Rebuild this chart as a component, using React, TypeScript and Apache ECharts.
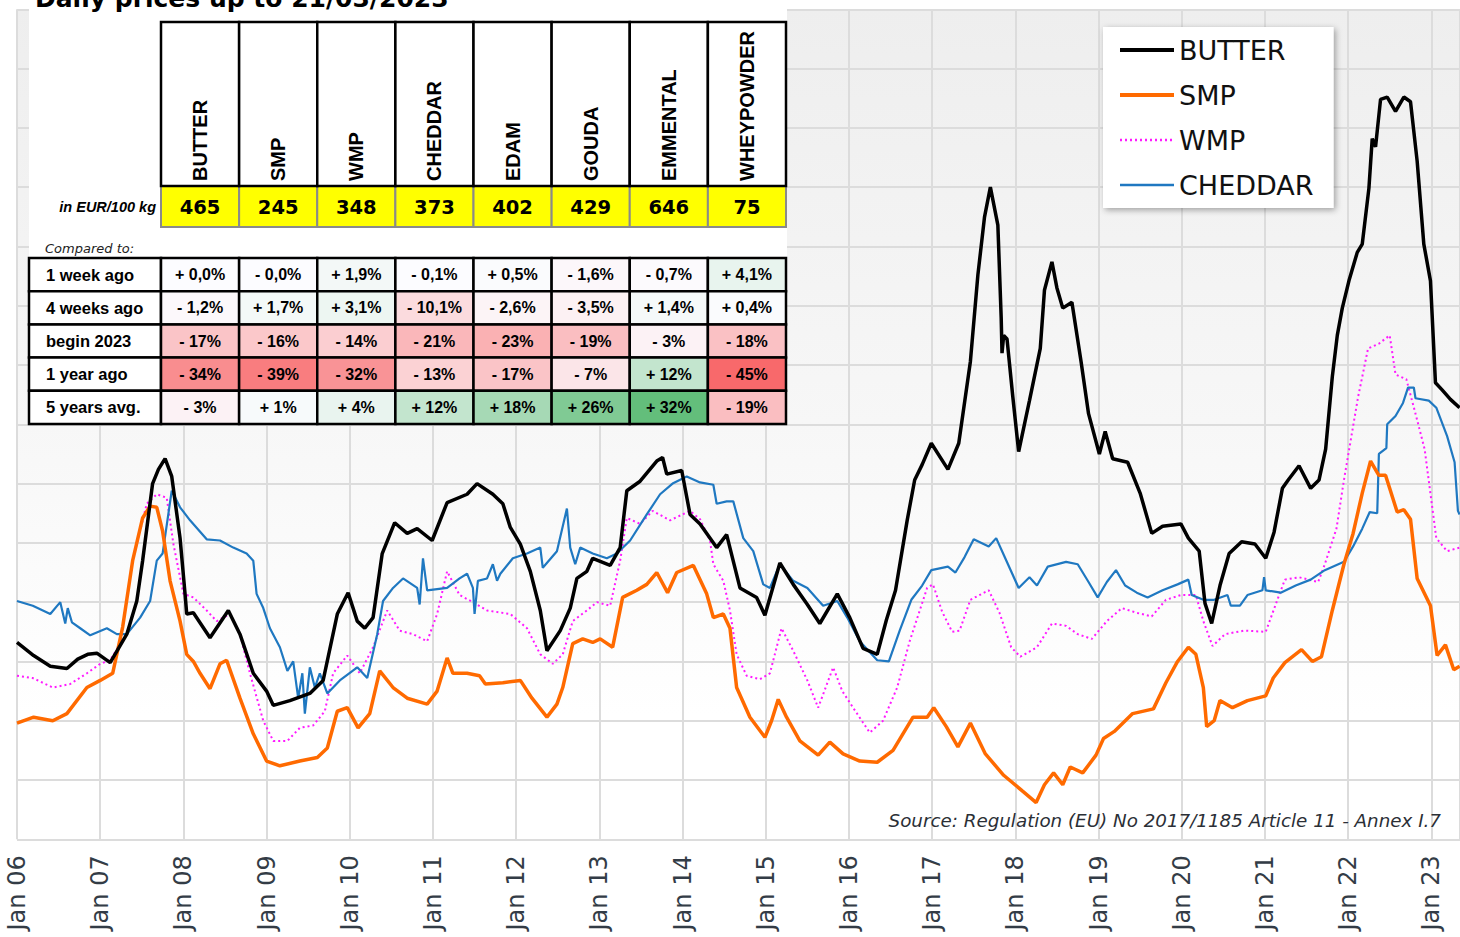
import React, { useEffect, useRef } from 'react';
import * as echarts from 'echarts';

// ---------- DATA ----------
const TITLE = 'Daily prices up to 21/03/2023';
const SOURCE = 'Source: Regulation (EU) No 2017/1185 Article 11 - Annex I.7';
const UNIT_LABEL = 'in EUR/100 kg';
const COMPARED_LABEL = 'Compared to:';

const PRODUCTS = ['BUTTER', 'SMP', 'WMP', 'CHEDDAR', 'EDAM', 'GOUDA', 'EMMENTAL', 'WHEYPOWDER'];
const PRICES = [465, 245, 348, 373, 402, 429, 646, 75];

const COMPARE_LABELS = ['1 week ago', '4 weeks ago', 'begin 2023', '1 year ago', '5 years avg.'];
const CHG_1W = [0.0, -0.0, 1.9, -0.1, 0.5, -1.6, -0.7, 4.1];
const CHG_4W = [-1.2, 1.7, 3.1, -10.1, -2.6, -3.5, 1.4, 0.4];
const CHG_BEGIN = [-17, -16, -14, -21, -23, -19, -3, -18];
const CHG_1Y = [-34, -39, -32, -13, -17, -7, 12, -45];
const CHG_5Y = [-3, 1, 4, 12, 18, 26, 32, -19];
const CHG_DECIMALS = [1, 1, 0, 0, 0];

// time in decimal years, price in EUR/100 kg
const BUTTER: [number, number][] = [
  [2006.00, 266], [2006.20, 255], [2006.40, 246], [2006.60, 244], [2006.73, 252], [2006.85, 256], [2006.96, 257],
  [2007.12, 249], [2007.32, 273], [2007.44, 301], [2007.51, 335], [2007.63, 400], [2007.70, 412], [2007.78, 421],
  [2007.86, 406], [2007.96, 354], [2008.02, 307], [2008.04, 290], [2008.12, 291], [2008.32, 270], [2008.54, 293],
  [2008.68, 273], [2008.84, 240], [2009.00, 225], [2009.08, 213], [2009.28, 217], [2009.52, 223], [2009.68, 234],
  [2009.85, 290], [2009.98, 308], [2010.09, 284], [2010.18, 278], [2010.28, 287], [2010.39, 341], [2010.54, 367],
  [2010.69, 358], [2010.81, 362], [2010.99, 352], [2011.17, 384], [2011.41, 391], [2011.53, 400], [2011.72, 391],
  [2011.84, 383], [2011.93, 363], [2012.05, 349], [2012.17, 326], [2012.29, 293], [2012.37, 259], [2012.53, 276],
  [2012.65, 295], [2012.73, 320], [2012.85, 326], [2012.92, 337], [2013.13, 331], [2013.25, 346], [2013.33, 394],
  [2013.49, 402], [2013.69, 419], [2013.76, 422], [2013.81, 408], [2013.99, 411], [2014.09, 374], [2014.21, 366],
  [2014.41, 346], [2014.53, 357], [2014.69, 312], [2014.89, 304], [2014.99, 289], [2015.17, 333], [2015.33, 315],
  [2015.50, 298], [2015.65, 282], [2015.86, 307], [2016.01, 287], [2016.17, 261], [2016.34, 256], [2016.45, 285],
  [2016.56, 310], [2016.70, 369], [2016.79, 403], [2016.88, 416], [2016.99, 434], [2017.19, 412], [2017.32, 434],
  [2017.46, 503], [2017.55, 576], [2017.63, 625], [2017.70, 650], [2017.79, 618], [2017.83, 540], [2017.84, 510],
  [2017.86, 525], [2017.90, 522], [2017.97, 473], [2018.04, 427], [2018.17, 470], [2018.30, 514], [2018.35, 563],
  [2018.44, 587], [2018.50, 565], [2018.57, 548], [2018.68, 553], [2018.79, 503], [2018.88, 459], [2019.01, 425],
  [2019.08, 444], [2019.17, 421], [2019.35, 418], [2019.50, 392], [2019.64, 358], [2019.77, 364], [2019.99, 366],
  [2020.08, 354], [2020.21, 343], [2020.28, 299], [2020.36, 282], [2020.46, 314], [2020.57, 341], [2020.72, 351],
  [2020.88, 349], [2021.01, 337], [2021.11, 359], [2021.21, 396], [2021.28, 403], [2021.41, 415], [2021.55, 396],
  [2021.65, 403], [2021.73, 429], [2021.81, 490], [2021.87, 525], [2021.93, 548], [2022.01, 571], [2022.11, 595],
  [2022.17, 602], [2022.25, 649], [2022.29, 691], [2022.33, 684], [2022.39, 724], [2022.47, 726], [2022.57, 714],
  [2022.67, 726], [2022.75, 722], [2022.83, 672], [2022.91, 602], [2022.99, 571], [2023.05, 485], [2023.13, 479],
  [2023.23, 471], [2023.34, 464],
];

const SMP: [number, number][] = [
  [2006.00, 198], [2006.20, 203], [2006.43, 200], [2006.60, 206], [2006.84, 228], [2007.00, 234], [2007.15, 240],
  [2007.27, 279], [2007.39, 335], [2007.51, 371], [2007.60, 381], [2007.68, 380], [2007.75, 360], [2007.84, 318],
  [2007.96, 284], [2008.04, 256], [2008.12, 250], [2008.20, 240], [2008.32, 227], [2008.44, 248], [2008.52, 251],
  [2008.68, 219], [2008.84, 189], [2009.00, 166], [2009.16, 162], [2009.40, 166], [2009.61, 169], [2009.73, 177],
  [2009.85, 208], [2009.97, 211], [2010.10, 194], [2010.24, 206], [2010.36, 242], [2010.52, 228], [2010.69, 219],
  [2010.93, 214], [2011.05, 225], [2011.17, 253], [2011.24, 240], [2011.41, 240], [2011.56, 238], [2011.63, 231],
  [2011.84, 232], [2012.05, 234], [2012.19, 219], [2012.37, 203], [2012.49, 214], [2012.56, 228], [2012.68, 265],
  [2012.80, 269], [2012.92, 266], [2013.01, 269], [2013.16, 262], [2013.28, 304], [2013.45, 310], [2013.57, 315],
  [2013.69, 325], [2013.82, 308], [2013.93, 325], [2014.13, 331], [2014.29, 307], [2014.37, 287], [2014.49, 290],
  [2014.57, 278], [2014.65, 228], [2014.81, 203], [2014.99, 186], [2015.07, 200], [2015.15, 218], [2015.25, 203],
  [2015.41, 183], [2015.63, 171], [2015.77, 182], [2015.93, 172], [2016.13, 166], [2016.34, 165], [2016.53, 175],
  [2016.77, 203], [2016.94, 203], [2017.02, 211], [2017.17, 195], [2017.31, 178], [2017.46, 198], [2017.64, 172],
  [2017.86, 154], [2018.08, 141], [2018.25, 131], [2018.35, 146], [2018.46, 156], [2018.57, 146], [2018.66, 161],
  [2018.81, 156], [2018.97, 171], [2019.06, 185], [2019.19, 191], [2019.41, 206], [2019.66, 210], [2019.81, 232],
  [2019.95, 250], [2020.08, 262], [2020.17, 256], [2020.26, 228], [2020.30, 195], [2020.39, 200], [2020.46, 217],
  [2020.61, 211], [2020.79, 217], [2021.01, 221], [2021.10, 236], [2021.24, 249], [2021.44, 260], [2021.57, 250],
  [2021.68, 254], [2021.81, 293], [2021.95, 332], [2022.06, 358], [2022.17, 392], [2022.27, 419], [2022.37, 407],
  [2022.45, 407], [2022.59, 376], [2022.67, 378], [2022.75, 370], [2022.83, 320], [2022.99, 297], [2023.07, 255],
  [2023.17, 264], [2023.27, 243], [2023.34, 246],
];

const WMP: [number, number][] = [
  [2006.00, 238], [2006.19, 236], [2006.43, 228], [2006.64, 231], [2006.84, 240], [2007.00, 248], [2007.12, 251],
  [2007.24, 265], [2007.39, 335], [2007.56, 383], [2007.68, 391], [2007.80, 388], [2007.88, 349], [2008.00, 307],
  [2008.12, 304], [2008.28, 293], [2008.40, 284], [2008.56, 290], [2008.68, 273], [2008.80, 240], [2008.96, 200],
  [2009.08, 183], [2009.25, 183], [2009.40, 194], [2009.56, 196], [2009.70, 208], [2009.80, 240], [2009.97, 255],
  [2010.12, 240], [2010.28, 262], [2010.45, 293], [2010.60, 276], [2010.76, 273], [2010.93, 267], [2011.05, 290],
  [2011.17, 326], [2011.32, 306], [2011.48, 300], [2011.65, 293], [2011.93, 290], [2012.13, 278], [2012.29, 256],
  [2012.44, 248], [2012.56, 256], [2012.68, 284], [2012.85, 293], [2012.97, 300], [2013.13, 297], [2013.25, 335],
  [2013.33, 371], [2013.49, 366], [2013.64, 377], [2013.85, 369], [2014.09, 377], [2014.21, 370], [2014.33, 352],
  [2014.37, 332], [2014.49, 318], [2014.57, 293], [2014.65, 256], [2014.77, 238], [2014.93, 235], [2015.05, 240],
  [2015.19, 278], [2015.33, 259], [2015.50, 234], [2015.63, 211], [2015.81, 245], [2015.92, 225], [2016.05, 211],
  [2016.25, 190], [2016.41, 200], [2016.58, 228], [2016.73, 267], [2016.94, 312], [2017.01, 315], [2017.12, 292],
  [2017.24, 275], [2017.33, 276], [2017.46, 302], [2017.68, 310], [2017.81, 291], [2017.95, 262], [2018.06, 254],
  [2018.26, 262], [2018.44, 282], [2018.61, 280], [2018.75, 273], [2018.92, 269], [2019.10, 284], [2019.28, 295],
  [2019.46, 291], [2019.64, 288], [2019.81, 302], [2019.99, 306], [2020.17, 306], [2020.26, 284], [2020.37, 263],
  [2020.52, 273], [2020.75, 276], [2021.01, 275], [2021.15, 302], [2021.24, 319], [2021.41, 321], [2021.64, 317],
  [2021.72, 332], [2021.86, 362], [2021.95, 403], [2022.12, 473], [2022.24, 514], [2022.37, 518], [2022.50, 525],
  [2022.57, 492], [2022.70, 488], [2022.81, 459], [2022.92, 429], [2023.06, 354], [2023.19, 343], [2023.34, 346],
];

const CHEDDAR: [number, number][] = [
  [2006.00, 301], [2006.19, 297], [2006.40, 290], [2006.52, 300], [2006.58, 282], [2006.61, 295], [2006.66, 283],
  [2006.76, 278], [2006.88, 272], [2007.08, 278], [2007.20, 273], [2007.32, 273], [2007.48, 287], [2007.60, 301],
  [2007.68, 335], [2007.75, 341], [2007.86, 394], [2007.96, 380], [2008.08, 369], [2008.28, 353], [2008.44, 352],
  [2008.60, 346], [2008.76, 341], [2008.84, 335], [2008.88, 307], [2008.96, 295], [2009.04, 278], [2009.16, 262],
  [2009.25, 242], [2009.32, 250], [2009.38, 219], [2009.43, 240], [2009.46, 206], [2009.52, 245], [2009.58, 228],
  [2009.64, 240], [2009.73, 223], [2009.88, 234], [2010.09, 245], [2010.21, 236], [2010.33, 273], [2010.40, 301],
  [2010.52, 312], [2010.64, 320], [2010.81, 312], [2010.84, 298], [2010.88, 337], [2010.93, 310], [2011.17, 312],
  [2011.32, 320], [2011.41, 324], [2011.48, 312], [2011.50, 290], [2011.54, 318], [2011.65, 320], [2011.72, 332],
  [2011.77, 318], [2011.81, 324], [2011.96, 337], [2012.13, 341], [2012.29, 346], [2012.32, 329], [2012.49, 343],
  [2012.61, 379], [2012.65, 346], [2012.71, 332], [2012.77, 346], [2012.92, 341], [2013.09, 337], [2013.21, 341],
  [2013.37, 352], [2013.57, 374], [2013.73, 391], [2013.88, 400], [2014.05, 406], [2014.21, 401], [2014.37, 399],
  [2014.41, 383], [2014.53, 385], [2014.61, 385], [2014.73, 354], [2014.85, 343], [2014.97, 315], [2015.05, 312],
  [2015.17, 332], [2015.33, 318], [2015.50, 312], [2015.69, 297], [2015.86, 301], [2015.98, 287], [2016.13, 267],
  [2016.34, 251], [2016.48, 250], [2016.61, 276], [2016.75, 302], [2016.88, 314], [2016.99, 327], [2017.19, 330],
  [2017.28, 325], [2017.39, 338], [2017.50, 353], [2017.68, 347], [2017.77, 354], [2017.86, 340], [2018.04, 312],
  [2018.17, 321], [2018.26, 314], [2018.39, 330], [2018.61, 334], [2018.75, 332], [2018.88, 317], [2018.99, 304],
  [2019.10, 317], [2019.21, 327], [2019.32, 314], [2019.46, 308], [2019.59, 304], [2019.77, 310], [2019.95, 315],
  [2020.08, 319], [2020.12, 306], [2020.26, 302], [2020.39, 302], [2020.55, 306], [2020.59, 297], [2020.70, 297],
  [2020.79, 306], [2020.97, 310], [2020.99, 321], [2021.01, 310], [2021.19, 308], [2021.37, 314], [2021.55, 319],
  [2021.72, 327], [2021.95, 334], [2022.06, 347], [2022.17, 362], [2022.26, 376], [2022.35, 375], [2022.37, 425],
  [2022.46, 430], [2022.47, 450], [2022.57, 457], [2022.66, 468], [2022.72, 481], [2022.79, 481], [2022.81, 472],
  [2022.97, 470], [2023.06, 464], [2023.19, 440], [2023.28, 418], [2023.32, 377], [2023.34, 374],
];

const SERIES_NAMES = ['BUTTER', 'SMP', 'WMP', 'CHEDDAR'];
const X_MIN = 2006;
const X_MAX = 2023.345;
const Y_MIN = 100;
const Y_MAX = 800;
const Y_STEP = 50;

// ---------- helpers ----------
const CHG_ROWS = [CHG_1W, CHG_4W, CHG_BEGIN, CHG_1Y, CHG_5Y];

function fmtChange(v: number, dec: number): string {
  const neg = v < 0 || Object.is(v, -0);
  return `${neg ? '-' : '+'} ${Math.abs(v).toFixed(dec).replace('.', ',')}%`;
}

function scaleColor(v: number, min: number, max: number): string {
  const white = [252, 252, 255];
  const red = [248, 105, 107];
  const green = [99, 190, 123];
  let t: number;
  let c: number[];
  if (v < 0) {
    t = v / min;
    c = red;
  } else {
    t = max ? v / max : 0;
    c = green;
  }
  const m = white.map((w, i) => Math.round(w + (c[i] - w) * t));
  return `rgb(${m[0]},${m[1]},${m[2]})`;
}

function buildTable(): any[] {
  const els: any[] = [];
  const X0 = 161;
  const CW = 78.125;
  const HT = 22;
  const HB = 186;
  const PH = 41;
  const RT = 258;
  const RH = 33.2;
  const LX = 29;
  const all = CHG_ROWS.flat();
  const min = Math.min(...all);
  const max = Math.max(...all);
  const bold = 'Liberation Sans';

  // white backing
  els.push({ type: 'rect', z: 10, shape: { x: 29, y: 0, width: 758, height: 424 }, style: { fill: '#ffffff' } });

  // title
  els.push({
    type: 'text', z: 12, x: 35, y: -1.6,
    style: { text: TITLE, fill: '#000', fontSize: 25, fontWeight: 'bold', fontFamily: 'DejaVu Sans', align: 'left', verticalAlign: 'middle' },
  });

  // price row (yellow)
  PRODUCTS.forEach((_, i) => {
    els.push({
      type: 'rect', z: 11, shape: { x: X0 + i * CW, y: HB, width: CW, height: PH },
      style: { fill: '#ffff00', stroke: '#8a8a8a', lineWidth: 2 },
    });
  });
  // header cells
  PRODUCTS.forEach((p, i) => {
    els.push({
      type: 'rect', z: 12, shape: { x: X0 + i * CW, y: HT, width: CW, height: HB - HT },
      style: { fill: '#ffffff', stroke: '#000', lineWidth: 2.5 },
    });
    els.push({
      type: 'text', z: 13, x: X0 + i * CW + CW / 2, y: 181, rotation: Math.PI / 2,
      style: { text: p, fill: '#000', fontSize: 20, fontWeight: 'bold', fontFamily: bold, align: 'left', verticalAlign: 'middle' },
    });
    els.push({
      type: 'text', z: 13, x: X0 + i * CW + CW / 2, y: HB + PH / 2 + 0.5,
      style: { text: String(PRICES[i]), fill: '#000', fontSize: 19.5, fontWeight: 'bold', fontFamily: 'DejaVu Sans', align: 'center', verticalAlign: 'middle' },
    });
  });
  els.push({
    type: 'text', z: 13, x: 156, y: HB + PH / 2,
    style: { text: UNIT_LABEL, fill: '#000', fontSize: 14.5, fontWeight: 'bold', fontStyle: 'italic', fontFamily: bold, align: 'right', verticalAlign: 'middle' },
  });
  els.push({
    type: 'text', z: 13, x: 45, y: 248,
    style: { text: COMPARED_LABEL, fill: '#222', fontSize: 13, fontStyle: 'italic', fontFamily: 'DejaVu Sans', align: 'left', verticalAlign: 'middle' },
  });

  // comparison rows
  CHG_ROWS.forEach((row, r) => {
    const y = RT + r * RH;
    els.push({
      type: 'rect', z: 12, shape: { x: LX, y, width: X0 - LX, height: RH },
      style: { fill: '#ffffff', stroke: '#000', lineWidth: 2.5 },
    });
    els.push({
      type: 'text', z: 13, x: 46, y: y + RH / 2,
      style: { text: COMPARE_LABELS[r], fill: '#000', fontSize: 16.5, fontWeight: 'bold', fontFamily: bold, align: 'left', verticalAlign: 'middle' },
    });
    row.forEach((v, i) => {
      els.push({
        type: 'rect', z: 12, shape: { x: X0 + i * CW, y, width: CW, height: RH },
        style: { fill: scaleColor(v, min, max), stroke: '#000', lineWidth: 2.5 },
      });
      els.push({
        type: 'text', z: 13, x: X0 + i * CW + CW / 2, y: y + RH / 2,
        style: { text: fmtChange(v, CHG_DECIMALS[r]), fill: '#000', fontSize: 16, fontWeight: 'bold', fontFamily: bold, align: 'center', verticalAlign: 'middle' },
      });
    });
  });

  // source
  els.push({
    type: 'text', z: 5, x: 1441, y: 820,
    style: { text: SOURCE, fill: '#2b2f36', fontSize: 18.3, fontStyle: 'italic', fontFamily: 'DejaVu Sans', align: 'right', verticalAlign: 'middle' },
  });
  return els;
}

const STYLES: Record<string, any> = {
  BUTTER: { color: '#000000', width: 3.5, type: 'solid' },
  SMP: { color: '#ff6a00', width: 3.5, type: 'solid' },
  WMP: { color: '#ff1aff', width: 2, type: [2, 3] },
  CHEDDAR: { color: '#1f78c1', width: 2.2, type: 'solid' },
};
const SERIES_DATA: Record<string, [number, number][]> = { BUTTER, SMP, WMP, CHEDDAR };
const DRAW_ORDER = ['WMP', 'CHEDDAR', 'SMP', 'BUTTER'];

export default function App() {
  const ref = useRef<HTMLDivElement>(null);
  useEffect(() => {
    if (!ref.current) return;
    const chart = echarts.init(ref.current, null, { renderer: 'svg' });
    const gridColor = '#dcdcdc';
    const option: any = {
      animation: false,
      backgroundColor: '#ffffff',
      grid: {
        left: 17, right: 0, top: 9.3, bottom: 97.7, containLabel: false, show: true, borderWidth: 0,
        backgroundColor: new echarts.graphic.LinearGradient(0, 0, 0, 1, [
          { offset: 0, color: '#eeeeee' },
          { offset: 0.5, color: '#f7f7f7' },
          { offset: 0.85, color: '#ffffff' },
          { offset: 1, color: '#ffffff' },
        ]),
      },
      legend: {
        data: SERIES_NAMES.map((n) => ({
          name: n,
          lineStyle: { width: STYLES[n].width + 0.5, type: STYLES[n].type, color: STYLES[n].color },
          itemStyle: { opacity: 0 },
        })),
        orient: 'vertical',
        left: 1103,
        top: 27,
        z: 20,
        selectedMode: false,
        backgroundColor: '#ffffff',
        padding: [6, 20, 6, 15],
        itemWidth: 54,
        itemHeight: 14,
        itemGap: 11,
        itemStyle: { opacity: 0 },
        shadowBlur: 6,
        shadowColor: 'rgba(0,0,0,0.35)',
        shadowOffsetX: 2,
        shadowOffsetY: 2,
        textStyle: { fontSize: 27, fontFamily: 'DejaVu Sans', color: '#111', lineHeight: 34 },
      },
      xAxis: {
        type: 'value', min: X_MIN, max: X_MAX, interval: 1,
        axisLine: { show: false }, axisTick: { show: false },
        splitLine: { show: true, lineStyle: { color: gridColor, width: 2 } },
        axisLabel: {
          rotate: 90, margin: 16, fontSize: 24, fontFamily: 'DejaVu Sans', color: '#333c46',
          showMaxLabel: false,
          formatter: (v: number) => (Math.abs(v - Math.round(v)) < 1e-6 ? 'Jan ' + String(Math.round(v) % 100).padStart(2, '0') : ''),
        },
      },
      yAxis: {
        type: 'value', min: Y_MIN, max: Y_MAX, interval: Y_STEP,
        axisLine: { show: false }, axisTick: { show: false }, axisLabel: { show: false },
        splitLine: { show: true, lineStyle: { color: gridColor, width: 2 } },
      },
      series: DRAW_ORDER.map((n) => ({
        name: n,
        type: 'line',
        data: SERIES_DATA[n],
        showSymbol: false,
        symbol: 'none',
        lineStyle: { color: STYLES[n].color, width: STYLES[n].width, type: STYLES[n].type },
        itemStyle: { color: STYLES[n].color },
        emphasis: { disabled: true },
      })),
      graphic: { elements: buildTable() },
    };
    chart.setOption(option);
    return () => chart.dispose();
  }, []);
  return <div ref={ref} style={{ position: 'absolute', left: 0, top: 0, width: 1460, height: 937 }} />;
}
